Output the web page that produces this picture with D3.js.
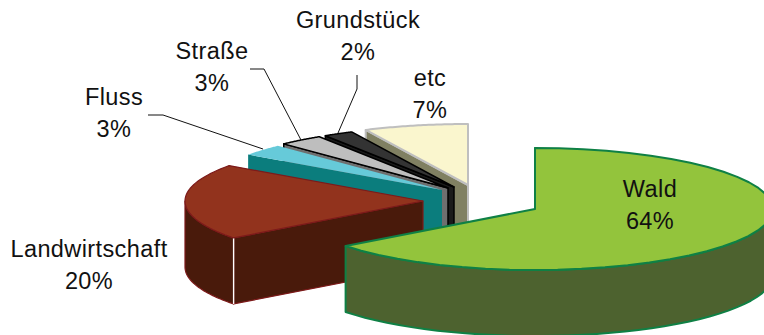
<!DOCTYPE html>
<html><head><meta charset="utf-8">
<script src="https://cdn.jsdelivr.net/npm/d3@7"></script>
<style>html,body{margin:0;padding:0;background:#fff}svg{display:block}text{font-family:"Liberation Sans",Arial,sans-serif;font-size:23.5px;letter-spacing:.4px;fill:#111;text-anchor:middle}</style>
</head><body><svg id="c" width="764" height="335"></svg>
<script>
const categories=["Wald","Landwirtschaft","Fluss","Straße","Grundstück","etc"];
const percentValues=[64,20,3,3,2,7];
const percentLabels=["64%","20%","3%","3%","2%","7%"];
const topColors=["#93C43C","#92331D","#66CAD9","#BEBEBE","#333333","#FAF6CE"];
const wallColors=["#4D622F","#491A0B","#0B7D7D","#6F6F6F","#1A1A1A","#808062"];
const strokeColors=["#0F8045","#7D1A1A","none","#000000","#000000","#BFBFBF"];
const strokeWidths=[2,1.2,0,1.5,1.5,2];
const apexX=[535,423,442,448,454,468];
const apexY=[209,201,190,188,187,185];
const labelX=[650,89,114,212,358,430];
const labelY=[197,257,105,59,28,86];
const leaders=[null,null,[[148,115],[163,115],[263,149]],[[250,69],[264,69],[301,140]],[[357,75],[357,89],[338,133]],null];

const W=764,H=335,RX=238,RY=61,DEPTH=66;
const svg=d3.select("#c");
const defs=svg.append("defs");
defs.append("clipPath").attr("id","clip").append("rect").attr("width",W).attr("height",H);
const root=svg.append("g").attr("clip-path","url(#clip)");
const arcs=d3.pie().sort(null)(percentValues);
const px=d3.scaleLinear().domain([-1,1]).range([-RX,RX]);
const py=d3.scaleLinear().domain([-1,1]).range([-RY,RY]);
const pt=(i,a,r=1,dz=0)=>[apexX[i]+px(Math.sin(a)*r),apexY[i]-py(Math.cos(a)*r)+dz];
const rimPts=(i,a0,a1,dz)=>d3.range(0,41).map(k=>pt(i,a0+(a1-a0)*k/40,1,dz));
const line=d3.line();
const order=d3.range(arcs.length).reverse();
order.forEach(i=>{
  const {startAngle:a0,endAngle:a1}=arcs[i];
  const g=root.append("g");
  const apex=[apexX[i],apexY[i]];
  const wallStyle=s=>s.attr("fill",wallColors[i]).attr("stroke",strokeColors[i]==="none"?"none":strokeColors[i]).attr("stroke-width",strokeWidths[i]).attr("stroke-linejoin","round");
  g.append("path").attr("d",line([pt(i,a0),apex,[apex[0],apex[1]+DEPTH],pt(i,a0,1,DEPTH)])+"Z").call(wallStyle);
  const lo=Math.max(a0,Math.PI/2),hi=Math.min(a1,Math.PI*1.5);
  if(hi>lo){
    const top=rimPts(i,lo,hi,0),bot=rimPts(i,lo,hi,DEPTH).reverse();
    g.append("path").attr("d",line(top.concat(bot))+"Z").call(wallStyle);
  }
  if(i===1){
    const c=pt(i,a0);
    g.append("line").attr("x1",c[0]).attr("y1",c[1]).attr("x2",c[0]).attr("y2",c[1]+DEPTH).attr("stroke","#fff").attr("stroke-width",1.4);
  }
  g.append("path").attr("d",line([apex].concat(rimPts(i,a0,a1,0)))+"Z")
    .attr("fill",topColors[i]).attr("stroke",strokeColors[i]).attr("stroke-width",strokeWidths[i]).attr("stroke-linejoin","round");
});
leaders.forEach(l=>{ if(l) root.append("path").attr("d",line(l)).attr("fill","none").attr("stroke","#111").attr("stroke-width",1); });
categories.forEach((c,i)=>{
  const t=root.append("text").attr("x",labelX[i]).attr("y",labelY[i]);
  t.append("tspan").attr("x",labelX[i]).text(c);
  t.append("tspan").attr("x",labelX[i]).attr("dy",32).text(percentLabels[i]);
});
</script></body></html>
